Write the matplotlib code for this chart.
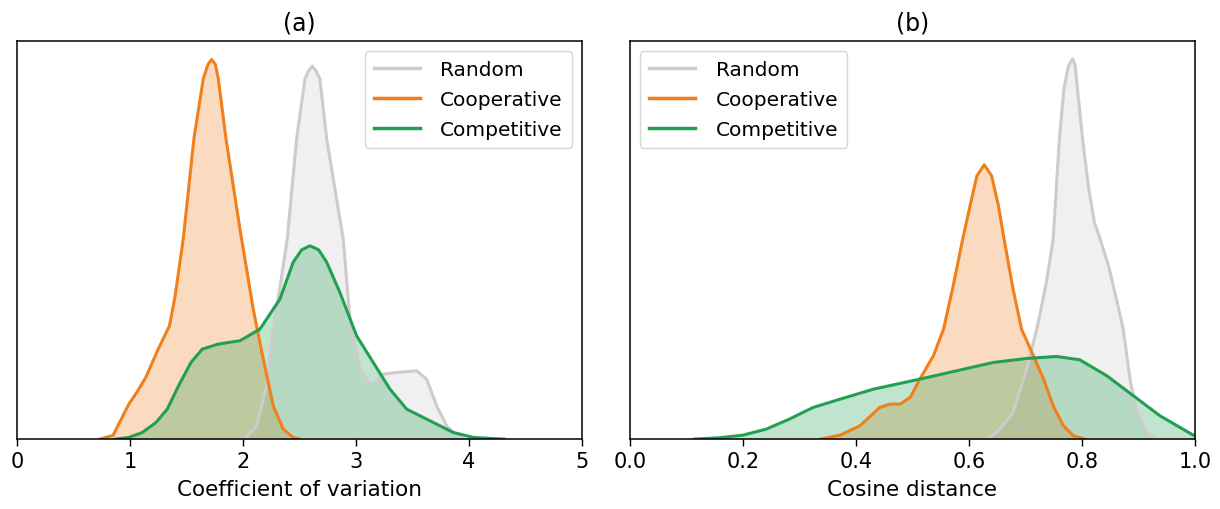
import matplotlib
matplotlib.use('Agg')
import matplotlib.pyplot as plt

# colours
c_rand = '#cccccc'
c_coop = '#f07f1c'
c_comp = '#22a052'

# ---- panel (a): coefficient of variation (density, arbitrary units) ----
a_rand_x = [1.98, 2.033, 2.121, 2.209, 2.268, 2.33, 2.392, 2.475, 2.549, 2.58, 2.613, 2.646, 2.681,
            2.741, 2.858, 2.887, 2.947, 3.035, 3.109, 3.153, 3.242, 3.360, 3.537, 3.626, 3.714,
            3.803, 3.891, 3.95]
a_rand_y = [0.0, 0.005, 0.04, 0.16, 0.33, 0.46, 0.601, 0.901, 1.081, 1.105, 1.119, 1.105, 1.081,
            0.901, 0.661, 0.601, 0.36, 0.21, 0.17, 0.165, 0.195, 0.20, 0.205, 0.18, 0.10,
            0.04, 0.01, 0.0]

a_coop_x = [0.73, 0.85, 0.99, 1.06, 1.14, 1.25, 1.35, 1.40, 1.472, 1.566, 1.649, 1.69, 1.723,
            1.756, 1.782, 1.850, 1.973, 2.091, 2.180, 2.268, 2.357, 2.445, 2.50]
a_coop_y = [0.0, 0.011, 0.105, 0.14, 0.185, 0.27, 0.34, 0.43, 0.601, 0.901, 1.081, 1.124, 1.139,
            1.124, 1.081, 0.901, 0.631, 0.39, 0.24, 0.10, 0.03, 0.005, 0.0]

a_comp_x = [0.87, 0.99, 1.11, 1.23, 1.33, 1.43, 1.54, 1.64, 1.78, 1.91, 1.973, 2.150, 2.327,
            2.445, 2.52, 2.593, 2.67, 2.741, 2.858, 3.006, 3.153, 3.301, 3.449, 3.626, 3.861,
            4.04, 4.31]
a_comp_y = [0.0, 0.005, 0.02, 0.05, 0.09, 0.16, 0.23, 0.27, 0.285, 0.292, 0.295, 0.33, 0.42,
            0.531, 0.568, 0.580, 0.568, 0.531, 0.44, 0.31, 0.23, 0.15, 0.09, 0.06, 0.02,
            0.005, 0.0]

# ---- panel (b): cosine distance ----
b_rand_x = [0.630, 0.649, 0.678, 0.702, 0.720, 0.737, 0.749, 0.760, 0.768, 0.776, 0.7835, 0.788,
            0.792, 0.801, 0.812, 0.822, 0.832, 0.847, 0.861, 0.873, 0.885, 0.897, 0.914, 0.93]
b_rand_y = [0.0, 0.02, 0.08, 0.21, 0.33, 0.47, 0.601, 0.901, 1.051, 1.12, 1.141, 1.12,
            1.051, 0.901, 0.75, 0.65, 0.601, 0.52, 0.42, 0.33, 0.18, 0.08, 0.02, 0.0]

b_coop_x = [0.337, 0.372, 0.407, 0.442, 0.460, 0.478, 0.496, 0.513, 0.537, 0.555, 0.572, 0.589,
            0.602, 0.614, 0.627, 0.640, 0.652, 0.662, 0.678, 0.693, 0.714, 0.732, 0.749, 0.767,
            0.785, 0.806]
b_coop_y = [0.0, 0.012, 0.04, 0.095, 0.105, 0.105, 0.125, 0.18, 0.25, 0.33, 0.46, 0.601,
            0.701, 0.79, 0.823, 0.79, 0.701, 0.601, 0.45, 0.33, 0.25, 0.18, 0.10, 0.04,
            0.01, 0.0]

b_comp_x = [0.114, 0.158, 0.200, 0.241, 0.282, 0.324, 0.372, 0.431, 0.513, 0.578, 0.643, 0.702,
            0.755, 0.796, 0.844, 0.891, 0.938, 0.997, 1.0]
b_comp_y = [0.0, 0.004, 0.012, 0.03, 0.06, 0.095, 0.120, 0.150, 0.180, 0.205, 0.230, 0.242,
            0.248, 0.238, 0.19, 0.13, 0.07, 0.012, 0.012]

fig = plt.figure(figsize=(12.2, 5.1), dpi=100)
ax1 = fig.add_axes([0.0139, 0.137, 0.4631, 0.781])
ax2 = fig.add_axes([0.5164, 0.137, 0.4631, 0.781])


def draw(ax, series, xlim, ticks, ticklabels, xlabel, title, loc):
    for x, y, c, lab in series:
        ax.fill_between(x, y, color=c, alpha=0.28, lw=0)
        ax.plot(x, y, color=c, lw=2.2, label=lab, solid_joinstyle='round')
    ax.set_xlim(*xlim)
    ax.set_ylim(0, 1.195)
    ax.set_yticks([])
    ax.set_xticks(ticks)
    ax.set_xticklabels(ticklabels)
    ax.tick_params(axis='x', labelsize=15, length=5, width=1)
    ax.set_xlabel(xlabel, fontsize=15.5, labelpad=6)
    ax.set_title(title, fontsize=17, pad=8)
    leg = ax.legend(loc=loc, fontsize=14.5, handlelength=2.3, borderpad=0.45,
                    labelspacing=0.55, handletextpad=1.0)
    for h in leg.get_lines():
        h.set_linewidth(2.5)
    for s in ax.spines.values():
        s.set_linewidth(1.1)


draw(ax1,
     [(a_rand_x, a_rand_y, c_rand, 'Random'),
      (a_coop_x, a_coop_y, c_coop, 'Cooperative'),
      (a_comp_x, a_comp_y, c_comp, 'Competitive')],
     (0, 5), [0, 1, 2, 3, 4, 5], ['0', '1', '2', '3', '4', '5'],
     'Coefficient of variation', '(a)', 'upper right')

draw(ax2,
     [(b_rand_x, b_rand_y, c_rand, 'Random'),
      (b_coop_x, b_coop_y, c_coop, 'Cooperative'),
      (b_comp_x, b_comp_y, c_comp, 'Competitive')],
     (0, 1), [0, 0.2, 0.4, 0.6, 0.8, 1.0], ['0.0', '0.2', '0.4', '0.6', '0.8', '1.0'],
     'Cosine distance', '(b)', 'upper left')

fig.savefig('out.png', dpi=100)
